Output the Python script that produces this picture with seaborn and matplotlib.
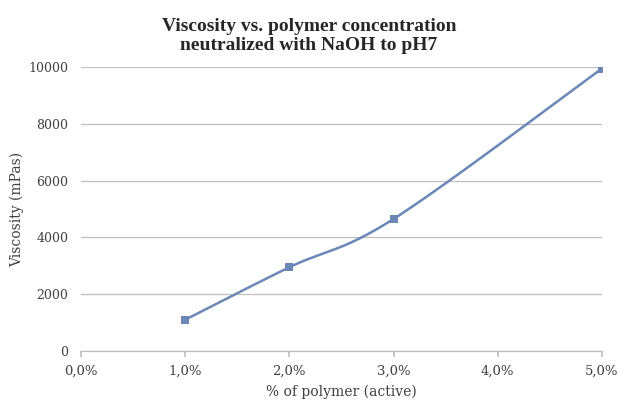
import numpy as np
import pandas as pd
import matplotlib
matplotlib.use("Agg")
import matplotlib.pyplot as plt
import seaborn as sns
from matplotlib.ticker import FuncFormatter

# Data
concentration = [0.01, 0.02, 0.03, 0.05]
viscosity = [1100, 2950, 4650, 9950]
x_ticks = [0.0, 0.01, 0.02, 0.03, 0.04, 0.05]
y_ticks = [0, 2000, 4000, 6000, 8000, 10000]

sns.set_theme(style="white")
plt.rcParams['font.family'] = ['DejaVu Serif']

fig = plt.figure(figsize=(6.18, 4.01), dpi=100)
ax = fig.add_axes([0.131, 0.1247, 0.843, 0.708])

xmin, xmax, ymin, ymax = 0.0, 0.05, 0, 10000

# Excel-style smoothed line (Bezier with 1/6 tension), computed in normalized space
px = (np.array(concentration) - xmin) / (xmax - xmin) * 521
py = (np.array(viscosity) - ymin) / (ymax - ymin) * 284
P = np.column_stack([px, py])
n = len(P)
curve = []
for i in range(n - 1):
    p0 = P[i - 1] if i > 0 else P[i]
    p1 = P[i]
    p2 = P[i + 1]
    p3 = P[i + 2] if i + 2 < n else P[i + 1]
    c1 = p1 + (p2 - p0) / 6
    c2 = p2 - (p3 - p1) / 6
    t = np.linspace(0, 1, 60)[:, None]
    seg = (1 - t) ** 3 * p1 + 3 * (1 - t) ** 2 * t * c1 + 3 * (1 - t) * t ** 2 * c2 + t ** 3 * p2
    curve.append(seg if i == 0 else seg[1:])
curve = np.vstack(curve)
sx = curve[:, 0] / 521 * (xmax - xmin) + xmin
sy = curve[:, 1] / 284 * (ymax - ymin) + ymin

color = "#6a87b7"
ax.plot(sx, sy, color=color, lw=1.8, solid_capstyle='round', zorder=3)
df = pd.DataFrame({"c": concentration, "v": viscosity})
sns.scatterplot(data=df, x="c", y="v", marker="s", s=36, color=color,
                edgecolor=color, linewidth=0, ax=ax, zorder=4)

ax.set_xlim(xmin, xmax)
ax.set_ylim(ymin, ymax)
ax.set_xticks(x_ticks)
ax.set_yticks(y_ticks)
ax.xaxis.set_major_formatter(FuncFormatter(lambda v, p: f"{v*100:.1f}%".replace(".", ",")))
ax.yaxis.grid(True, color="#bfbfbf", lw=0.9)
ax.xaxis.grid(False)
for s in ["top", "right", "left"]:
    ax.spines[s].set_visible(False)
ax.spines["bottom"].set_color("#bfbfbf")
ax.spines["bottom"].set_linewidth(0.9)
ax.tick_params(axis="x", which="major", bottom=True, length=4, color="#bfbfbf",
               labelsize=9.5, labelcolor="#404040", pad=6)
ax.tick_params(axis="y", left=False, length=0, labelsize=9, labelcolor="#404040", pad=9)

ax.set_xlabel("% of polymer (active)", fontsize=10, color="#404040", labelpad=5)
ax.set_ylabel("Viscosity (mPas)", fontsize=10, color="#404040", labelpad=3)
fig.suptitle("Viscosity vs. polymer concentration\nneutralized with NaOH to pH7",
             x=0.5, y=0.955, fontsize=14, fontweight="bold",
             family="Liberation Serif", color="#262626", linespacing=1.15)

fig.savefig("out.png", dpi=100)
